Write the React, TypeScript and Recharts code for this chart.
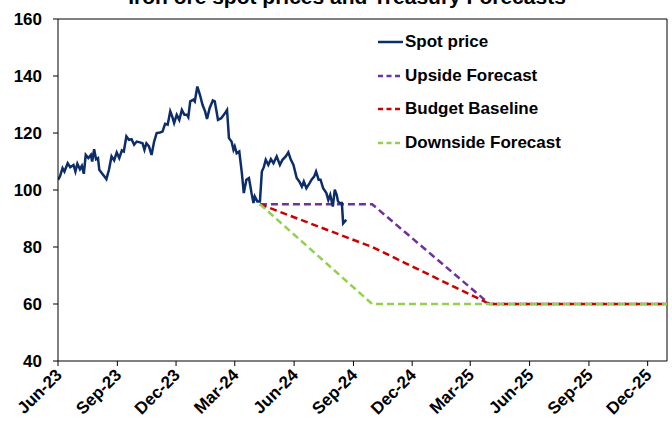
import { LineChart, Line, XAxis, YAxis, ReferenceLine } from "recharts";

// iron ore spot, US$/t
const spotDates = [
  "2023-06-01", "2023-06-04", "2023-06-08", "2023-06-11", "2023-06-16", "2023-06-20", "2023-06-25", "2023-06-28",
  "2023-07-01", "2023-07-05", "2023-07-08", "2023-07-11", "2023-07-14", "2023-07-18", "2023-07-22", "2023-07-24",
  "2023-07-27", "2023-07-30", "2023-08-02", "2023-08-04", "2023-08-08", "2023-08-12", "2023-08-15", "2023-08-19",
  "2023-08-23", "2023-08-27", "2023-08-31", "2023-09-04", "2023-09-08", "2023-09-11", "2023-09-15", "2023-09-19",
  "2023-09-23", "2023-09-27", "2023-10-01", "2023-10-06", "2023-10-10", "2023-10-13", "2023-10-16", "2023-10-20",
  "2023-10-24", "2023-10-28", "2023-11-01", "2023-11-06", "2023-11-10", "2023-11-14", "2023-11-18", "2023-11-22",
  "2023-11-25", "2023-11-28", "2023-12-02", "2023-12-06", "2023-12-10", "2023-12-14", "2023-12-18", "2023-12-20",
  "2023-12-23", "2023-12-28", "2023-12-30", "2024-01-03", "2024-01-07", "2024-01-11", "2024-01-15", "2024-01-18",
  "2024-01-22", "2024-01-27", "2024-01-30", "2024-02-04", "2024-02-09", "2024-02-15", "2024-02-18", "2024-02-21",
  "2024-02-25", "2024-02-28", "2024-03-01", "2024-03-04", "2024-03-08", "2024-03-12", "2024-03-15", "2024-03-19",
  "2024-03-23", "2024-03-27", "2024-03-30", "2024-04-01", "2024-04-05", "2024-04-09", "2024-04-12", "2024-04-15",
  "2024-04-18", "2024-04-22", "2024-04-26", "2024-04-30", "2024-05-05", "2024-05-10", "2024-05-14", "2024-05-19",
  "2024-05-23", "2024-05-27", "2024-05-31", "2024-06-05", "2024-06-09", "2024-06-13", "2024-06-16", "2024-06-20",
  "2024-06-25", "2024-06-28", "2024-07-02", "2024-07-05", "2024-07-09", "2024-07-12", "2024-07-16", "2024-07-21",
  "2024-07-24", "2024-07-27", "2024-07-31", "2024-08-03", "2024-08-06", "2024-08-08", "2024-08-11", "2024-08-14",
  "2024-08-16", "2024-08-20", "2024-08-21",
];
const spotValues = [
  103.6, 104.7, 107.7, 106.5, 109.4, 108.0, 108.8, 106.5,
  109.2, 107.3, 108.5, 105.7, 112.3, 111.2, 112.3, 110.0,
  114.3, 110.8, 111.2, 107.1, 105.9, 104.7, 103.8, 107.1,
  111.8, 110.4, 113.2, 111.2, 113.9, 113.5, 118.8, 117.6,
  117.8, 115.9, 117.0, 116.7, 116.4, 114.1, 116.4, 115.3,
  112.3, 117.0, 120.0, 120.2, 120.5, 123.2, 122.9, 127.6,
  125.8, 123.5, 126.4, 124.6, 128.1, 126.4, 126.4, 125.6,
  131.1, 131.7, 131.1, 136.3, 133.4, 129.9, 127.6, 124.9,
  128.7, 131.4, 131.1, 124.6, 125.2, 127.0, 128.1, 118.2,
  117.0, 114.1, 115.3, 112.9, 113.5, 105.9, 98.9, 103.6,
  104.2, 98.9, 95.4, 97.7, 96.0, 96.0, 106.5, 108.0,
  110.6, 108.8, 110.8, 109.4, 111.8, 108.8, 110.6, 111.8,
  113.2, 110.6, 108.8, 104.2, 103.0, 101.2, 103.0, 100.6,
  102.4, 103.6, 104.7, 106.5, 103.6, 103.6, 100.6, 98.9,
  96.5, 98.3, 94.2, 100.1, 98.3, 96.0, 95.4, 95.4,
  88.3, 89.3, 89.5,
];

// Treasury forecast paths
const forecastDates = ["2024-04-09", "2024-09-30", "2025-03-31", "2025-12-31"];
const upsideValues = [95, 95, 60, 60];
const baselineValues = [95, 80, 60, 60];
const downsideValues = [95, 60, 60, 60];

const tickDates = [
  "2023-06-01", "2023-09-01", "2023-12-01", "2024-03-01", "2024-06-01", "2024-09-01",
  "2024-12-01", "2025-03-01", "2025-06-01", "2025-09-01", "2025-12-01",
];
const yTicks = [40, 60, 80, 100, 120, 140, 160];

const MONTHS = ["Jan", "Feb", "Mar", "Apr", "May", "Jun", "Jul", "Aug", "Sep", "Oct", "Nov", "Dec"];
const FONT = "'Liberation Sans', Arial, sans-serif";

const toT = (s: string) => new Date(s + "T00:00:00Z").getTime();

const spotData = spotDates.map((d, i) => ({ t: toT(d), v: spotValues[i] }));
const upsideData = forecastDates.map((d, i) => ({ t: toT(d), v: upsideValues[i] }));
const baselineData = forecastDates.map((d, i) => ({ t: toT(d), v: baselineValues[i] }));
const downsideData = forecastDates.map((d, i) => ({ t: toT(d), v: downsideValues[i] }));

const xStart = toT("2023-06-01");
const xEnd = toT("2025-12-31");

const SERIES = [
  { name: "Spot price", color: "#0D2C6C", dashed: false },
  { name: "Upside Forecast", color: "#7030A0", dashed: true },
  { name: "Budget Baseline", color: "#CC0000", dashed: true },
  { name: "Downside Forecast", color: "#92D050", dashed: true },
];

function fmtTick(t: number) {
  const d = new Date(t);
  return `${MONTHS[d.getUTCMonth()]}-${String(d.getUTCFullYear()).slice(2)}`;
}

function XTick({ x, y, payload }: any) {
  return (
    <text
      x={x + 5}
      y={y + 8}
      transform={`rotate(-45, ${x + 5}, ${y + 8})`}
      textAnchor="end"
      fontFamily={FONT}
      fontWeight={700}
      fontSize={17}
      fill="#000"
    >
      {fmtTick(payload.value)}
    </text>
  );
}

// legend sits inside the plot, top right
function LegendBox() {
  return (
    <div
      style={{
        position: "absolute",
        left: 378,
        top: 25,
        fontFamily: FONT,
        fontWeight: 700,
        fontSize: 17,
        color: "#000",
        pointerEvents: "none",
      }}
    >
      {SERIES.map((s) => (
        <div key={s.name} style={{ display: "flex", alignItems: "center", height: 33.8 }}>
          <svg width={27} height={6}>
            <line
              x1={0}
              y1={3}
              x2={25}
              y2={3}
              stroke={s.color}
              strokeWidth={2.5}
              strokeDasharray={s.dashed ? "5 3.5" : undefined}
            />
          </svg>
          <span>{s.name}</span>
        </div>
      ))}
    </div>
  );
}

export default function App() {
  return (
    <div style={{ position: "absolute", left: 0, top: 0, width: 672, height: 424, background: "#fff" }}>
      <LineChart width={672} height={424} margin={{ top: 19, right: 5, bottom: 8, left: 8 }}>
        <text x={347} y={4} textAnchor="middle" fontFamily={FONT} fontWeight={700} fontSize={21} fill="#000">
          Iron ore spot prices and Treasury Forecasts
        </text>
        <XAxis
          type="number"
          dataKey="t"
          domain={[xStart, xEnd]}
          ticks={tickDates.map(toT)}
          allowDataOverflow
          height={55}
          tickSize={5}
          tickMargin={2}
          axisLine={{ stroke: "#000", strokeWidth: 1 }}
          tickLine={{ stroke: "#000" }}
          tick={<XTick />}
          interval={0}
        />
        <YAxis
          type="number"
          domain={[40, 160]}
          ticks={yTicks}
          width={50}
          tickSize={5}
          tickMargin={11}
          axisLine={{ stroke: "#000", strokeWidth: 1 }}
          tickLine={{ stroke: "#000" }}
          tick={{ fontFamily: FONT, fontWeight: 700, fontSize: 17, fill: "#000" }}
          interval={0}
        />
        <ReferenceLine y={160} stroke="#000" strokeWidth={1} />
        <ReferenceLine x={xEnd} stroke="#000" strokeWidth={1} />
        <Line
          data={upsideData}
          dataKey="v"
          name="Upside Forecast"
          stroke="#7030A0"
          strokeWidth={2.5}
          strokeDasharray="7 4"
          dot={false}
          isAnimationActive={false}
        />
        <Line
          data={baselineData}
          dataKey="v"
          name="Budget Baseline"
          stroke="#CC0000"
          strokeWidth={2.5}
          strokeDasharray="7 4"
          dot={false}
          isAnimationActive={false}
        />
        <Line
          data={downsideData}
          dataKey="v"
          name="Downside Forecast"
          stroke="#92D050"
          strokeWidth={2.5}
          strokeDasharray="7 4"
          dot={false}
          isAnimationActive={false}
        />
        <Line
          data={spotData}
          dataKey="v"
          name="Spot price"
          stroke="#0D2C6C"
          strokeWidth={2.5}
          dot={false}
          isAnimationActive={false}
        />
      </LineChart>
      <LegendBox />
    </div>
  );
}
